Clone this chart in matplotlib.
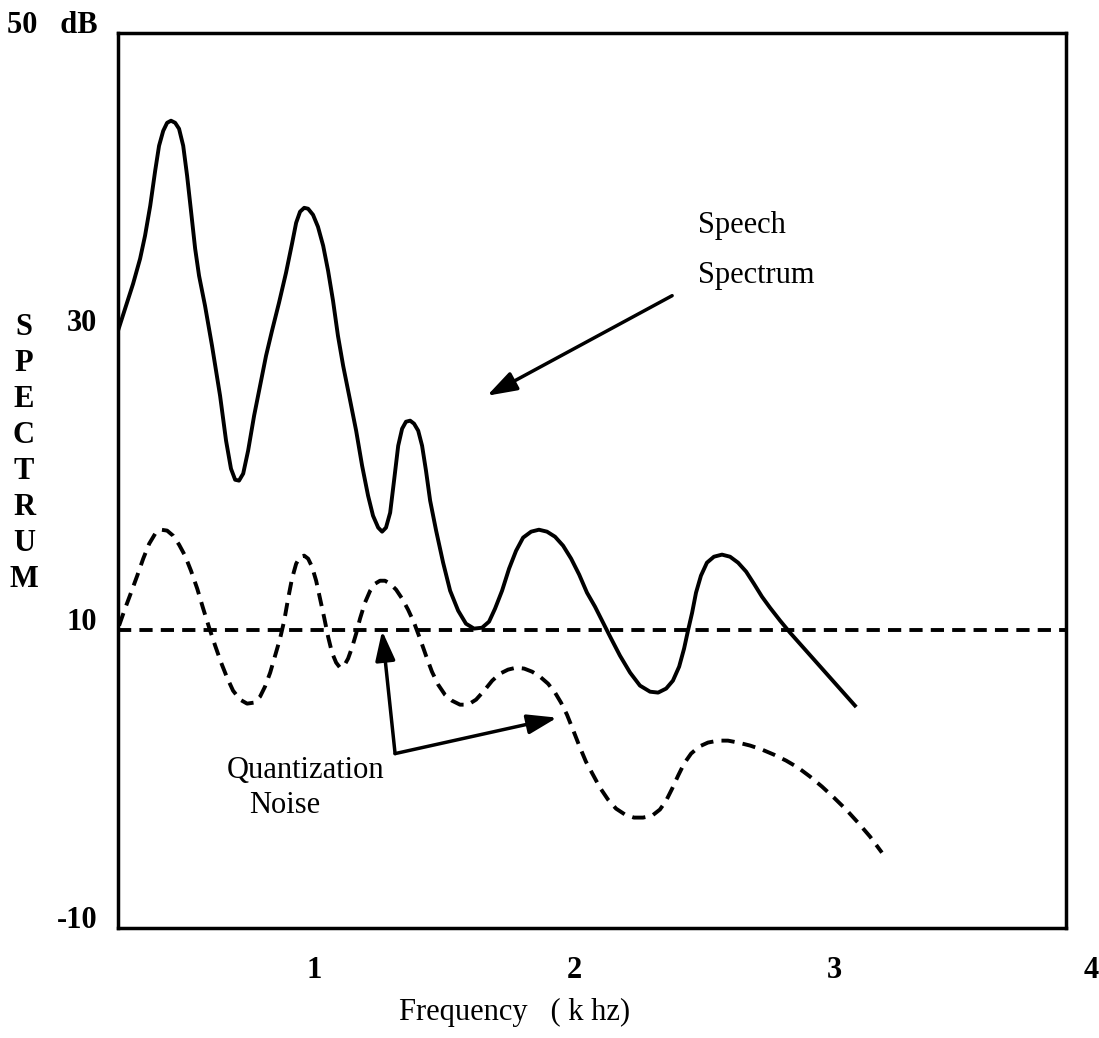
import numpy as np
import matplotlib
matplotlib.use("Agg")
import matplotlib.pyplot as plt

plt.rcParams['font.family'] = ['Liberation Serif', 'DejaVu Serif']

# speech spectrum (solid), kHz vs dB
speech_f = [0.243, 0.270, 0.301, 0.328, 0.347, 0.367, 0.386, 0.401, 0.417, 0.432,
            0.447, 0.463, 0.478, 0.494, 0.509, 0.524, 0.540, 0.555, 0.578, 0.605,
            0.636, 0.659, 0.678, 0.694, 0.709, 0.725, 0.744, 0.767, 0.790, 0.813,
            0.836, 0.863, 0.890, 0.913, 0.929, 0.944, 0.960, 0.975, 0.994, 1.013,
            1.033, 1.052, 1.071, 1.090, 1.110, 1.137, 1.160, 1.183, 1.206, 1.225,
            1.245, 1.260, 1.275, 1.291, 1.306, 1.322, 1.337, 1.352, 1.368, 1.383,
            1.399, 1.414, 1.429, 1.445, 1.468, 1.495, 1.522, 1.553, 1.583, 1.614,
            1.645, 1.672, 1.695, 1.722, 1.749, 1.776, 1.803, 1.834, 1.864, 1.895,
            1.926, 1.957, 1.988, 2.019, 2.049, 2.080, 2.111, 2.142, 2.176, 2.215,
            2.253, 2.292, 2.323, 2.354, 2.380, 2.404, 2.423, 2.438, 2.454, 2.469,
            2.488, 2.511, 2.538, 2.569, 2.600, 2.631, 2.662, 2.692, 2.723, 2.754,
            2.793, 2.831, 3.081]
speech_db = [30.04, 31.51, 33.19, 34.87, 36.41, 38.42, 40.76, 42.44, 43.44, 43.98,
             44.12, 43.98, 43.58, 42.44, 40.43, 38.08, 35.54, 33.73, 31.72, 29.03,
             25.68, 22.67, 20.79, 20.05, 19.99, 20.46, 22.00, 24.34, 26.35, 28.36,
             30.04, 31.92, 33.93, 35.87, 37.28, 38.02, 38.28, 38.22, 37.81, 37.01,
             35.74, 34.06, 32.05, 29.70, 27.69, 25.35, 23.34, 20.99, 18.98, 17.64,
             16.84, 16.57, 16.84, 17.84, 19.99, 22.33, 23.47, 23.94, 24.01, 23.81,
             23.34, 22.33, 20.66, 18.65, 16.64, 14.49, 12.61, 11.27, 10.40, 10.07,
             10.13, 10.54, 11.41, 12.61, 14.09, 15.29, 16.17, 16.57, 16.70, 16.57,
             16.23, 15.63, 14.76, 13.69, 12.48, 11.54, 10.47, 9.40, 8.26, 7.12,
             6.25, 5.84, 5.78, 6.05, 6.58, 7.52, 8.73, 9.93, 11.14, 12.48,
             13.62, 14.49, 14.89, 15.03, 14.89, 14.49, 13.89, 13.08, 12.21, 11.47,
             10.60, 9.80, 4.91]

# quantization noise (dashed)
noise_f = [0.247, 0.270, 0.293, 0.317, 0.340, 0.363, 0.386, 0.409, 0.432, 0.455,
           0.478, 0.501, 0.524, 0.548, 0.571, 0.594, 0.617, 0.640, 0.663, 0.686,
           0.713, 0.740, 0.767, 0.790, 0.809, 0.829, 0.848, 0.867, 0.883, 0.898,
           0.913, 0.929, 0.944, 0.960, 0.975, 0.990, 1.006, 1.021, 1.037, 1.052,
           1.067, 1.083, 1.098, 1.114, 1.129, 1.144, 1.160, 1.175, 1.194, 1.214,
           1.233, 1.252, 1.271, 1.291, 1.314, 1.337, 1.360, 1.383, 1.406, 1.429,
           1.452, 1.476, 1.502, 1.529, 1.560, 1.591, 1.622, 1.653, 1.684, 1.714,
           1.745, 1.776, 1.807, 1.838, 1.868, 1.899, 1.926, 1.949, 1.972, 1.995,
           2.019, 2.045, 2.072, 2.099, 2.130, 2.161, 2.196, 2.230, 2.265, 2.300,
           2.330, 2.354, 2.377, 2.400, 2.423, 2.450, 2.481, 2.515, 2.554, 2.592,
           2.631, 2.677, 2.723, 2.769, 2.816, 2.862, 2.908, 2.954, 3.000, 3.047,
           3.093, 3.139, 3.185]
noise_db = [10.27, 11.41, 12.48, 13.62, 14.76, 15.76, 16.43, 16.70, 16.64, 16.30,
            15.70, 14.96, 13.95, 12.75, 11.41, 10.13, 8.93, 7.79, 6.78, 5.91,
            5.31, 5.04, 5.11, 5.51, 6.18, 7.12, 8.26, 9.40, 10.60, 12.08,
            13.42, 14.42, 14.89, 14.96, 14.76, 14.22, 13.28, 12.08, 10.80, 9.53,
            8.46, 7.79, 7.45, 7.59, 8.06, 8.79, 9.73, 10.74, 11.81, 12.61,
            13.08, 13.28, 13.28, 13.08, 12.68, 12.08, 11.34, 10.47, 9.40, 8.26,
            7.18, 6.31, 5.64, 5.24, 4.97, 4.97, 5.31, 5.91, 6.58, 7.05,
            7.32, 7.45, 7.39, 7.18, 6.85, 6.38, 5.78, 5.11, 4.30, 3.30,
            2.23, 1.15, 0.28, -0.59, -1.39, -2.00, -2.40, -2.60, -2.60, -2.47,
            -2.06, -1.46, -0.66, 0.21, 1.02, 1.69, 2.16, 2.43, 2.56, 2.56,
            2.43, 2.23, 1.96, 1.62, 1.22, 0.75, 0.15, -0.52, -1.26, -2.06,
            -2.94, -3.87, -4.95]

level_db = 10
x_ticks = [1, 2, 3, 4]
y_ticks = [-10, 10, 30, 50]
y_labels = ['-10', '10', '30', '50   dB']

fig = plt.figure(figsize=(10.99, 10.38), dpi=100)
ax = fig.add_axes([0.1074, 0.1060, 0.8626, 0.8622])

lw = 2.8
dash = (0, (3.4, 2.1))
ax.plot(speech_f, speech_db, color='black', lw=lw, solid_joinstyle='round')
ax.plot(noise_f, noise_db, color='black', lw=lw, linestyle=dash)
ax.axhline(level_db, color='black', lw=lw, linestyle=dash)

ax.set_xlim(0.243, 3.894)
ax.set_ylim(-10, 50)
for s in ax.spines.values():
    s.set_linewidth(2.5)

ax.set_xticks([])
ax.set_yticks(y_ticks)
ax.set_yticklabels(y_labels, fontsize=22, fontweight='bold')
ax.tick_params(axis='y', length=0, pad=15)
for lab in ax.get_yticklabels():
    lab.set_verticalalignment('baseline')

for xt in x_ticks:
    xpos = xt if xt < 4 else 3.99
    ax.text(xpos, -0.047, str(xt), transform=ax.get_xaxis_transform(),
            ha='center', va='center', fontsize=22, fontweight='bold', clip_on=False)

ax.text(1.772, -0.094, 'Frequency   ( k hz)', transform=ax.get_xaxis_transform(),
        ha='center', va='center', fontsize=22, clip_on=False)

fig.text(24 / 1099, 0.563, '\n'.join('SPECTRUM'), ha='center', va='center',
         fontsize=22, fontweight='bold', linespacing=1.32)

# annotations
ax.text(2.476, 37.08, 'Speech', ha='left', va='center', fontsize=22)
ax.text(2.476, 33.73, 'Spectrum', ha='left', va='center', fontsize=22)
ax.text(0.967, 0.55, 'Quantization', ha='center', va='center', fontsize=22)
ax.text(0.883, -1.80, 'Noise', ha='center', va='center', fontsize=22)

arrow = dict(arrowstyle='-|>,head_length=0.9,head_width=0.3', mutation_scale=20,
             color='black', lw=2.5, shrinkA=0, shrinkB=0)
ax.annotate('', xy=(1.664, 25.68), xytext=(2.377, 32.39), arrowprops=arrow)
ax.annotate('', xy=(1.260, 9.93), xytext=(1.310, 1.69), arrowprops=arrow)
ax.annotate('', xy=(1.934, 4.10), xytext=(1.310, 1.69), arrowprops=arrow)

fig.savefig('out.png', dpi=100)
